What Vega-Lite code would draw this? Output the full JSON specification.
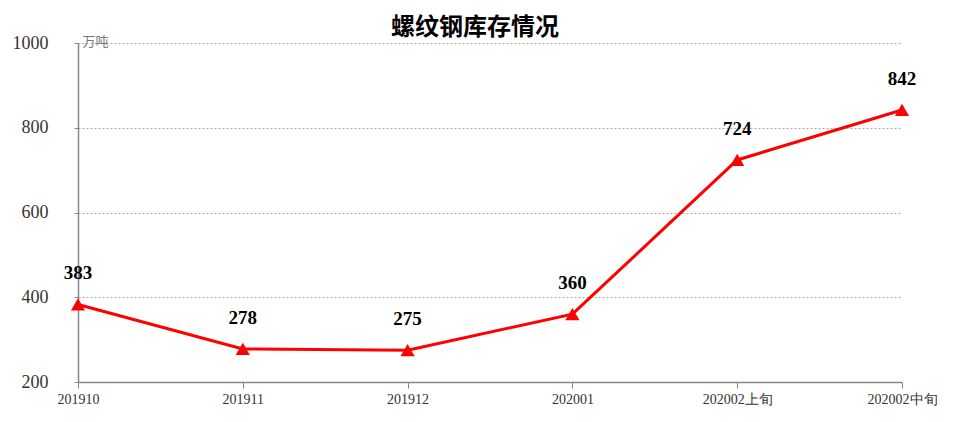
{
  "$schema": "https://vega.github.io/schema/vega-lite/v6.json",
  "width": 824,
  "height": 339,
  "autosize": "none",
  "padding": {"left": 78, "top": 43, "right": 62, "bottom": 40},
  "background": "white",
  "title": {
    "text": "螺纹钢库存情况",
    "font": "Noto Sans CJK SC",
    "fontSize": 24,
    "fontWeight": "bold",
    "color": "#000000",
    "anchor": "middle",
    "offset": 4,
    "dy": 10,
    "dx": -15
  },
  "data": {
    "values": [
      {"period": "201910", "stock": 383},
      {"period": "201911", "stock": 278},
      {"period": "201912", "stock": 275},
      {"period": "202001", "stock": 360},
      {"period": "202002上旬", "stock": 724},
      {"period": "202002中旬", "stock": 842}
    ]
  },
  "encoding": {
    "x": {
      "field": "period",
      "type": "ordinal",
      "sort": null,
      "scale": {"type": "point", "padding": 0},
      "axis": {
        "title": null,
        "labelAngle": 0,
        "labelFont": "Liberation Serif",
        "labelFontSize": 14,
        "labelColor": "#333333",
        "labelPadding": 4,
        "domainColor": "#888888",
        "domainWidth": 1.5,
        "tickColor": "#888888",
        "tickSize": 6,
        "grid": false
      }
    },
    "y": {
      "field": "stock",
      "type": "quantitative",
      "scale": {"domain": [200, 1000], "nice": false, "zero": false},
      "axis": {
        "values": [200, 400, 600, 800, 1000],
        "format": "d",
        "title": "万吨",
        "titleAngle": 0,
        "titleX": 4,
        "titleY": -2,
        "titleAlign": "left",
        "titleBaseline": "middle",
        "titleFont": "Noto Sans CJK SC",
        "titleFontSize": 13,
        "titleFontWeight": "normal",
        "titleColor": "#777777",
        "labelFont": "Liberation Serif",
        "labelFontSize": 18,
        "labelColor": "#333333",
        "labelPadding": 26,
        "domainColor": "#888888",
        "domainWidth": 1.5,
        "tickColor": "#888888",
        "tickSize": 4,
        "grid": true,
        "gridColor": "#aaaaaa",
        "gridDash": [2, 2],
        "gridWidth": 1
      }
    }
  },
  "layer": [
    {
      "mark": {"type": "line", "color": "#ff0000", "strokeWidth": 3}
    },
    {
      "mark": {"type": "point", "shape": "triangle-up", "filled": true, "color": "#ff0000", "size": 200, "opacity": 1}
    },
    {
      "mark": {"type": "text", "dy": -31, "font": "Liberation Serif", "fontSize": 19, "fontWeight": "bold", "color": "#000000", "baseline": "middle"},
      "encoding": {"text": {"field": "stock", "type": "quantitative"}}
    }
  ],
  "config": {
    "view": {"stroke": null}
  }
}
